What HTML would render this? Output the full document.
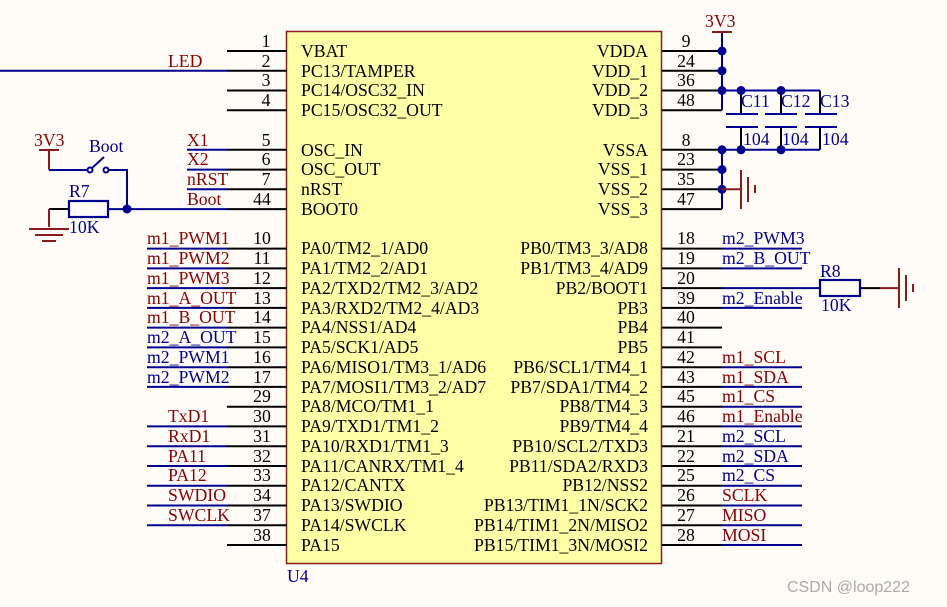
<!DOCTYPE html>
<html><head><meta charset="utf-8"><style>
html,body{margin:0;padding:0;background:#fffcf8;}
svg{display:block;font-family:"Liberation Serif",serif;}
.pn{font-size:17.7px;fill:#000;text-anchor:middle}
.nm{font-size:17.7px;fill:#000}
.nr{font-size:17.7px;fill:#000;text-anchor:end}
.r{font-size:17.7px;fill:#8b0000}
.b{font-size:17.7px;fill:#000090}
</style></head><body>
<svg width="947" height="607" viewBox="0 0 947 607">
<rect x="286.5" y="31.5" width="375" height="532" fill="#ffffa8" stroke="#8b1a1a" stroke-width="1.5"/>
<text x="287" y="582" class="b">U4</text>
<g stroke="#000" stroke-width="2">
<line x1="227" y1="51" x2="287" y2="51"/><line x1="227" y1="70.8" x2="287" y2="70.8"/><line x1="227" y1="90.5" x2="287" y2="90.5"/><line x1="227" y1="110.3" x2="287" y2="110.3"/>
<line x1="227" y1="149.8" x2="287" y2="149.8"/><line x1="227" y1="169.6" x2="287" y2="169.6"/><line x1="227" y1="189.3" x2="287" y2="189.3"/><line x1="227" y1="209.1" x2="287" y2="209.1"/>
<line x1="227" y1="248.6" x2="287" y2="248.6"/><line x1="227" y1="268.4" x2="287" y2="268.4"/><line x1="227" y1="288.1" x2="287" y2="288.1"/><line x1="227" y1="307.9" x2="287" y2="307.9"/><line x1="227" y1="327.6" x2="287" y2="327.6"/><line x1="227" y1="347.4" x2="287" y2="347.4"/><line x1="227" y1="367.2" x2="287" y2="367.2"/><line x1="227" y1="386.9" x2="287" y2="386.9"/><line x1="227" y1="406.7" x2="287" y2="406.7"/><line x1="227" y1="426.4" x2="287" y2="426.4"/><line x1="227" y1="446.2" x2="287" y2="446.2"/><line x1="227" y1="466" x2="287" y2="466"/><line x1="227" y1="485.7" x2="287" y2="485.7"/><line x1="227" y1="505.5" x2="287" y2="505.5"/><line x1="227" y1="525.2" x2="287" y2="525.2"/><line x1="227" y1="545" x2="287" y2="545"/>
<line x1="662" y1="51" x2="722" y2="51"/><line x1="662" y1="70.8" x2="722" y2="70.8"/><line x1="662" y1="90.5" x2="722" y2="90.5"/><line x1="662" y1="110.3" x2="722" y2="110.3"/>
<line x1="662" y1="149.8" x2="722" y2="149.8"/><line x1="662" y1="169.6" x2="722" y2="169.6"/><line x1="662" y1="189.3" x2="722" y2="189.3"/><line x1="662" y1="209.1" x2="722" y2="209.1"/>
<line x1="662" y1="248.6" x2="722" y2="248.6"/><line x1="662" y1="268.4" x2="722" y2="268.4"/><line x1="662" y1="288.1" x2="722" y2="288.1"/><line x1="662" y1="307.9" x2="722" y2="307.9"/><line x1="662" y1="327.6" x2="722" y2="327.6"/><line x1="662" y1="347.4" x2="722" y2="347.4"/><line x1="662" y1="367.2" x2="722" y2="367.2"/><line x1="662" y1="386.9" x2="722" y2="386.9"/><line x1="662" y1="406.7" x2="722" y2="406.7"/><line x1="662" y1="426.4" x2="722" y2="426.4"/><line x1="662" y1="446.2" x2="722" y2="446.2"/><line x1="662" y1="466" x2="722" y2="466"/><line x1="662" y1="485.7" x2="722" y2="485.7"/><line x1="662" y1="505.5" x2="722" y2="505.5"/><line x1="662" y1="525.2" x2="722" y2="525.2"/><line x1="662" y1="545" x2="722" y2="545"/>
<line x1="741" y1="90.5" x2="741" y2="114"/><line x1="741" y1="127" x2="741" y2="149.8"/>
<line x1="781" y1="90.5" x2="781" y2="114"/><line x1="781" y1="127" x2="781" y2="149.8"/>
<line x1="820" y1="90.5" x2="820" y2="114"/><line x1="820" y1="127" x2="820" y2="149.8"/>
<line x1="49" y1="209" x2="69" y2="209"/><line x1="860" y1="288.1" x2="880" y2="288.1"/>
</g>
<g stroke="#000090" stroke-width="2" fill="none">
<line x1="0" y1="70.8" x2="227" y2="70.8"/>
<line x1="187" y1="149.8" x2="227" y2="149.8"/><line x1="187" y1="169.6" x2="227" y2="169.6"/><line x1="187" y1="189.3" x2="227" y2="189.3"/><line x1="108" y1="209.1" x2="227" y2="209.1"/>
<line x1="147" y1="248.6" x2="227" y2="248.6"/><line x1="147" y1="268.4" x2="227" y2="268.4"/><line x1="147" y1="288.1" x2="227" y2="288.1"/><line x1="147" y1="307.9" x2="227" y2="307.9"/><line x1="147" y1="327.6" x2="227" y2="327.6"/><line x1="147" y1="347.4" x2="227" y2="347.4"/><line x1="147" y1="367.2" x2="227" y2="367.2"/><line x1="147" y1="386.9" x2="227" y2="386.9"/>
<line x1="147" y1="426.4" x2="227" y2="426.4"/><line x1="147" y1="446.2" x2="227" y2="446.2"/><line x1="147" y1="466" x2="227" y2="466"/><line x1="147" y1="485.7" x2="227" y2="485.7"/><line x1="147" y1="505.5" x2="227" y2="505.5"/><line x1="147" y1="525.2" x2="227" y2="525.2"/>
<line x1="722" y1="248.6" x2="802" y2="248.6"/><line x1="722" y1="268.4" x2="802" y2="268.4"/><line x1="722" y1="288.1" x2="802" y2="288.1"/><line x1="722" y1="307.9" x2="802" y2="307.9"/>
<line x1="722" y1="367.2" x2="802" y2="367.2"/><line x1="722" y1="386.9" x2="802" y2="386.9"/><line x1="722" y1="406.7" x2="802" y2="406.7"/><line x1="722" y1="426.4" x2="802" y2="426.4"/><line x1="722" y1="446.2" x2="802" y2="446.2"/><line x1="722" y1="466" x2="802" y2="466"/><line x1="722" y1="485.7" x2="802" y2="485.7"/><line x1="722" y1="505.5" x2="802" y2="505.5"/><line x1="722" y1="525.2" x2="802" y2="525.2"/><line x1="722" y1="545" x2="802" y2="545"/>
<line x1="802" y1="288.1" x2="820" y2="288.1"/>
<line x1="722" y1="32" x2="722" y2="110.3"/><line x1="722" y1="90.5" x2="820" y2="90.5"/>
<line x1="722" y1="149.8" x2="820" y2="149.8"/><line x1="722" y1="149.8" x2="722" y2="209.1"/>
<line x1="726" y1="114" x2="758" y2="114"/><line x1="726" y1="127" x2="758" y2="127"/>
<line x1="765" y1="114" x2="797" y2="114"/><line x1="765" y1="127" x2="797" y2="127"/>
<line x1="805" y1="114" x2="837" y2="114"/><line x1="805" y1="127" x2="837" y2="127"/>
<polyline points="49,170 90,170"/><polyline points="106,170 127,170 127,209"/>
<line x1="92" y1="168" x2="104" y2="157"/>
<circle cx="90" cy="170" r="2.5" fill="#fff"/><circle cx="106" cy="170" r="2.5" fill="#fff"/>
<rect x="69" y="201" width="39" height="16" stroke-width="2.2"/>
<rect x="820" y="280" width="40" height="16" stroke-width="2.2"/>
</g>
<g fill="#000090">
<circle cx="127" cy="209" r="4.5"/>
<circle cx="722" cy="51" r="4.5"/><circle cx="722" cy="70.8" r="4.5"/><circle cx="722" cy="90.5" r="4.5"/><circle cx="741" cy="90.5" r="4.5"/><circle cx="781" cy="90.5" r="4.5"/>
<circle cx="722" cy="149.8" r="4.5"/><circle cx="741" cy="149.8" r="4.5"/><circle cx="781" cy="149.8" r="4.5"/><circle cx="722" cy="169.6" r="4.5"/><circle cx="722" cy="189.3" r="4.5"/>
</g>
<g stroke="#8b1a1a" stroke-width="2" fill="none">
<line x1="712" y1="32" x2="732" y2="32"/>
<line x1="39" y1="150" x2="59" y2="150"/><line x1="49" y1="150" x2="49" y2="170"/>
<line x1="49" y1="209" x2="49" y2="227"/><line x1="29" y1="229" x2="69" y2="229"/><line x1="35" y1="235" x2="63" y2="235"/><line x1="42" y1="241" x2="56" y2="241"/>
<line x1="722" y1="189.3" x2="741" y2="189.3"/><line x1="741" y1="170" x2="741" y2="209"/><line x1="748" y1="177" x2="748" y2="202"/><line x1="755" y1="185" x2="755" y2="193"/>
<line x1="880" y1="288.1" x2="899" y2="288.1"/><line x1="899" y1="268" x2="899" y2="308"/><line x1="906" y1="275" x2="906" y2="301"/><line x1="913" y1="284" x2="913" y2="292"/>
</g>
<text x="34" y="146" class="r">3V3</text>
<text x="705" y="27" class="r">3V3</text>
<text x="89" y="152" class="b">Boot</text>
<text x="69" y="197" class="b">R7</text><text x="69" y="233" class="b">10K</text>
<text x="820" y="277" class="b">R8</text><text x="821" y="311" class="b">10K</text>
<text x="741" y="107" class="b">C11</text><text x="781" y="107" class="b">C12</text><text x="820" y="107" class="b">C13</text>
<text x="743" y="145" class="b">104</text><text x="782" y="145" class="b">104</text><text x="822" y="145" class="b">104</text>
<g class="pn">
<text x="266" y="47">1</text><text x="266" y="67">2</text><text x="266" y="86">3</text><text x="266" y="106">4</text>
<text x="266" y="146">5</text><text x="266" y="165">6</text><text x="266" y="185">7</text><text x="262" y="205">44</text>
<text x="262" y="244">10</text><text x="262" y="264">11</text><text x="262" y="284">12</text><text x="262" y="304">13</text><text x="262" y="323">14</text><text x="262" y="343">15</text><text x="262" y="363">16</text><text x="262" y="383">17</text><text x="262" y="402">29</text><text x="262" y="422">30</text><text x="262" y="442">31</text><text x="262" y="462">32</text><text x="262" y="481">33</text><text x="262" y="501">34</text><text x="262" y="521">37</text><text x="262" y="541">38</text>
<text x="686" y="47">9</text><text x="686" y="67">24</text><text x="686" y="86">36</text><text x="686" y="106">48</text>
<text x="686" y="146">8</text><text x="686" y="165">23</text><text x="686" y="185">35</text><text x="686" y="205">47</text>
<text x="686" y="244">18</text><text x="686" y="264">19</text><text x="686" y="284">20</text><text x="686" y="304">39</text><text x="686" y="323">40</text><text x="686" y="343">41</text><text x="686" y="363">42</text><text x="686" y="383">43</text><text x="686" y="402">45</text><text x="686" y="422">46</text><text x="686" y="442">21</text><text x="686" y="462">22</text><text x="686" y="481">25</text><text x="686" y="501">26</text><text x="686" y="521">27</text><text x="686" y="541">28</text>
</g>
<g class="nm">
<text x="301" y="57">VBAT</text><text x="301" y="77">PC13/TAMPER</text><text x="301" y="96">PC14/OSC32_IN</text><text x="301" y="116">PC15/OSC32_OUT</text>
<text x="301" y="156">OSC_IN</text><text x="301" y="175">OSC_OUT</text><text x="301" y="195">nRST</text><text x="301" y="215">BOOT0</text>
<text x="301" y="254">PA0/TM2_1/AD0</text><text x="301" y="274">PA1/TM2_2/AD1</text><text x="301" y="294">PA2/TXD2/TM2_3/AD2</text><text x="301" y="314">PA3/RXD2/TM2_4/AD3</text><text x="301" y="333">PA4/NSS1/AD4</text><text x="301" y="353">PA5/SCK1/AD5</text><text x="301" y="373">PA6/MISO1/TM3_1/AD6</text><text x="301" y="393">PA7/MOSI1/TM3_2/AD7</text><text x="301" y="412">PA8/MCO/TM1_1</text><text x="301" y="432">PA9/TXD1/TM1_2</text><text x="301" y="452">PA10/RXD1/TM1_3</text><text x="301" y="472">PA11/CANRX/TM1_4</text><text x="301" y="491">PA12/CANTX</text><text x="301" y="511">PA13/SWDIO</text><text x="301" y="531">PA14/SWCLK</text><text x="301" y="551">PA15</text>
</g>
<g class="nr">
<text x="648" y="57">VDDA</text><text x="648" y="77">VDD_1</text><text x="648" y="96">VDD_2</text><text x="648" y="116">VDD_3</text>
<text x="648" y="156">VSSA</text><text x="648" y="175">VSS_1</text><text x="648" y="195">VSS_2</text><text x="648" y="215">VSS_3</text>
<text x="648" y="254">PB0/TM3_3/AD8</text><text x="648" y="274">PB1/TM3_4/AD9</text><text x="648" y="294">PB2/BOOT1</text><text x="648" y="314">PB3</text><text x="648" y="333">PB4</text><text x="648" y="353">PB5</text><text x="648" y="373">PB6/SCL1/TM4_1</text><text x="648" y="393">PB7/SDA1/TM4_2</text><text x="648" y="412">PB8/TM4_3</text><text x="648" y="432">PB9/TM4_4</text><text x="648" y="452">PB10/SCL2/TXD3</text><text x="648" y="472">PB11/SDA2/RXD3</text><text x="648" y="491">PB12/NSS2</text><text x="648" y="511">PB13/TIM1_1N/SCK2</text><text x="648" y="531">PB14/TIM1_2N/MISO2</text><text x="648" y="551">PB15/TIM1_3N/MOSI2</text>
</g>
<text x="168" y="67" class="r">LED</text>
<text x="187" y="146" class="r">X1</text><text x="187" y="165" class="r">X2</text><text x="187" y="185" class="r">nRST</text><text x="187" y="205" class="r">Boot</text>
<text x="147" y="244" class="r">m1_PWM1</text><text x="147" y="264" class="r">m1_PWM2</text><text x="147" y="284" class="r">m1_PWM3</text><text x="147" y="304" class="r">m1_A_OUT</text><text x="147" y="323" class="r">m1_B_OUT</text><text x="147" y="343" class="b">m2_A_OUT</text><text x="147" y="363" class="b">m2_PWM1</text><text x="147" y="383" class="b">m2_PWM2</text>
<text x="168" y="422" class="r">TxD1</text><text x="168" y="442" class="r">RxD1</text><text x="168" y="462" class="r">PA11</text><text x="168" y="481" class="r">PA12</text><text x="168" y="501" class="r">SWDIO</text><text x="168" y="521" class="r">SWCLK</text>
<text x="722" y="244" class="b">m2_PWM3</text><text x="722" y="264" class="b">m2_B_OUT</text><text x="722" y="304" class="b">m2_Enable</text>
<text x="722" y="363" class="r">m1_SCL</text><text x="722" y="383" class="r">m1_SDA</text><text x="722" y="402" class="r">m1_CS</text><text x="722" y="422" class="r">m1_Enable</text>
<text x="722" y="442" class="b">m2_SCL</text><text x="722" y="462" class="b">m2_SDA</text><text x="722" y="481" class="b">m2_CS</text>
<text x="722" y="501" class="r">SCLK</text><text x="722" y="521" class="r">MISO</text><text x="722" y="541" class="r">MOSI</text>
<text x="787" y="592" style="font-family:'Liberation Sans',sans-serif;font-size:16px;fill:#aaa">CSDN @loop222</text>
</svg>
</body></html>
